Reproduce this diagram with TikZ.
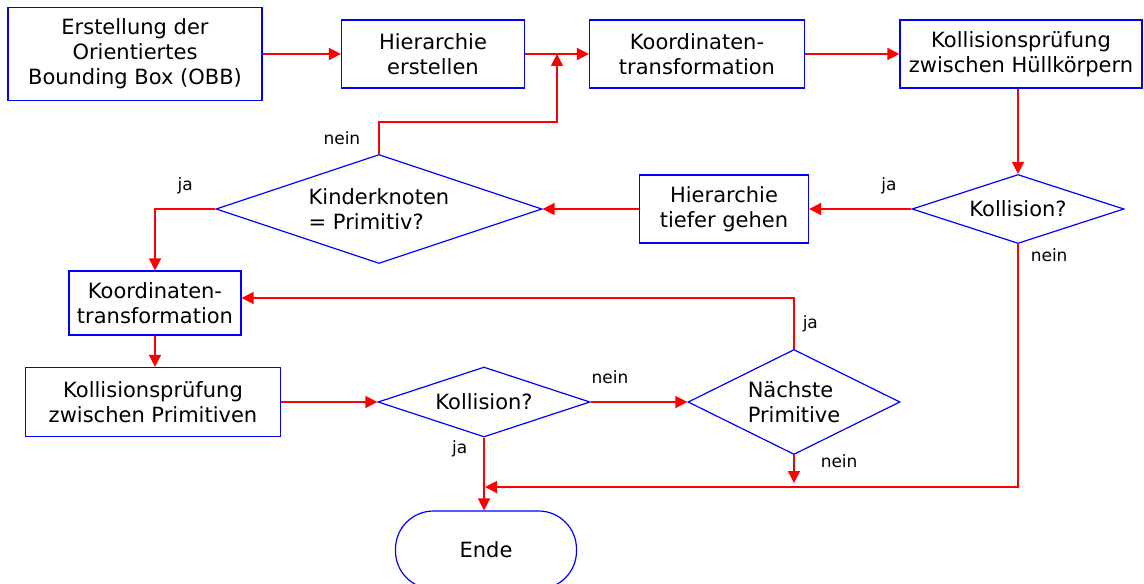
\documentclass[tikz,border=0pt]{standalone}
\usepackage{fontspec}
\setmainfont{DejaVu Sans}
\usepackage{tikz}
\usetikzlibrary{shapes.geometric,arrows.meta,calc}

\tikzset{
	box/.style={draw=blue,line width=0.6pt,rectangle,inner sep=0pt,align=center,font=\fontsize{10.5}{12.5}\selectfont},
	decision/.style={draw=blue,line width=0.6pt,diamond,inner sep=0pt,align=left,font=\fontsize{10.5}{12.5}\selectfont},
	terminal/.style={draw=blue,line width=0.6pt,rectangle,rounded corners=19pt,inner sep=0pt,font=\fontsize{10.5}{12.5}\selectfont},
	flow/.style={red,line width=0.75pt,-{Triangle[length=6pt,width=6pt]}},
	answer/.style={text=black,font=\fontsize{8.5}{10}\selectfont,inner sep=2pt},
}

\begin{document}
\begin{tikzpicture}[x=0.5pt,y=-0.5pt]
			%\draw [help lines] (0,0) grid (1144,583);
			\useasboundingbox (0,0) rectangle (1144,583);
			% obere Reihe
			\node[box,minimum width=127pt,minimum height=46.5pt] (obb) at (135,54) {Erstellung der\\Orientiertes\\Bounding Box (OBB)};
			\node[box,minimum width=91.5pt,minimum height=34pt] (hier) at (433,54) {Hierarchie\\erstellen};
			\node[box,minimum width=107.5pt,minimum height=34pt] (koord) at (697,54) {Koordinaten-\\transformation};
			\node[box,minimum width=121pt,minimum height=34pt] (huell) at (1021,54) {Kollisionspr\"ufung\\zwischen H\"ullk\"orpern};
			% zweite Reihe
			\node[decision,aspect=3,minimum width=106pt,minimum height=34.5pt] (koll) at (1018,209) {Kollision?};
			\node[box,minimum width=84.5pt,minimum height=34pt] (tiefer) at (724,209) {Hierarchie\\tiefer gehen};
			\node[decision,aspect=3,minimum width=163pt,minimum height=54.5pt] (kind) at (379,209) {Kinderknoten\\= Primitiv?};
			% untere Reihen
			\node[box,minimum width=86pt,minimum height=32pt] (koordb) at (155,303) {Koordinaten-\\transformation};
			\node[box,minimum width=127.5pt,minimum height=34.5pt] (prim) at (153,402) {Kollisionspr\"ufung\\zwischen Primitiven};
			\node[decision,aspect=3,minimum width=106pt,minimum height=35pt] (kollb) at (484,402) {Kollision?};
			\node[decision,aspect=2,minimum width=106pt,minimum height=52.5pt] (naechst) at (794,402) {N\"achste\\Primitive};
			\node[terminal,minimum width=90.5pt,minimum height=39pt] (ende) at (486,550) {Ende};
			\coordinate (merge) at ($(hier.east)!0.5!(koord.west)$);
			\coordinate (sammel) at (485,487);
			\coordinate (naechstend) at (naechst.south |- 0,483);
			% Verbindungen
			\draw[flow] (obb) -- (hier);
			\draw[flow] (hier) -- (koord);
			\draw[flow] (koord) -- (huell);
			\draw[flow] (koll.north |- huell.south) -- (koll.north);
			\draw[flow] (koll) -- node[answer,pos=0.22,above=5pt] {ja} (tiefer);
			\draw[flow] (tiefer) -- (kind);
			\draw[flow] (kind.north) -- node[answer,left=7pt] {nein} ++(0,-32) -| (merge);
			\draw[flow] (kind.west) -| node[answer,pos=0.25,above=5pt] {ja} (koordb.north);
			\draw[flow] (koordb.south) -- (koordb.south |- prim.north);
			\draw[flow] (prim) -- (kollb);
			\draw[flow] (kollb) -- node[answer,pos=0.2,above=7pt] {nein} (naechst);
			\draw[flow] (naechst.north) |- node[answer,pos=0.25,right=2pt] {ja} ([yshift=2.5pt]koordb.east);
			\draw[flow] (naechst.south) -- node[answer,pos=0.2,right=11pt] {nein} (naechstend);
			\draw[flow] (koll.south) |- node[answer,pos=0,anchor=north west,xshift=4pt] {nein} (sammel);
			\draw[flow] (kollb.south) -- node[answer,pos=0.15,left=6pt] {ja} (kollb.south |- ende.north);
		\end{tikzpicture}
\end{document}
